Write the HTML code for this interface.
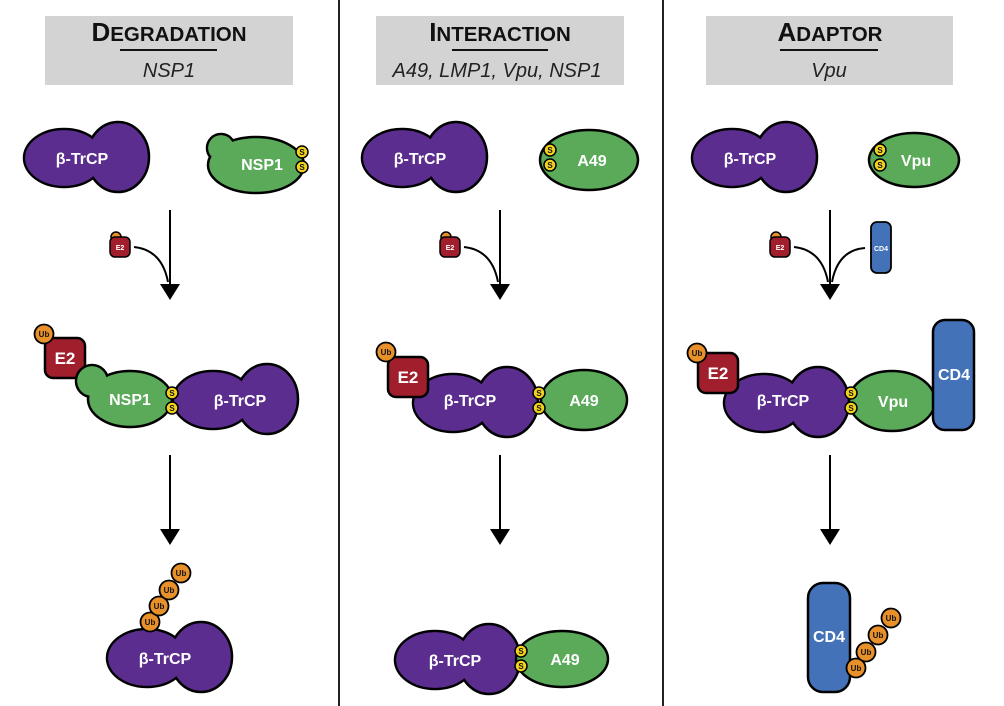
<!DOCTYPE html>
<html><head><meta charset="utf-8"><style>
html,body{margin:0;padding:0;background:#fff;}
svg{display:block;font-family:"Liberation Sans",Arial,sans-serif;}
.w{fill:#fff;font-weight:bold;text-anchor:middle;}
.k{fill:#111;font-weight:bold;text-anchor:middle;}
</style></head><body>
<svg width="1004" height="706" viewBox="0 0 1004 706" xmlns="http://www.w3.org/2000/svg">
<defs>
<g id="trcp">
 <ellipse cx="40" cy="36" rx="40" ry="29" fill="#5b2d8e" stroke="#000" stroke-width="2.5"/>
 <ellipse cx="94" cy="35" rx="31" ry="35" fill="#5b2d8e" stroke="#000" stroke-width="2.5"/>
 <ellipse cx="40" cy="36" rx="38.8" ry="27.8" fill="#5b2d8e"/>
</g>
<g id="ss">
 <circle cx="0" cy="0" r="6" fill="#f2d21e" stroke="#000" stroke-width="1.5"/>
 <circle cx="0" cy="15" r="6" fill="#f2d21e" stroke="#000" stroke-width="1.5"/>
 <text x="0" y="3" font-size="8" class="k">S</text>
 <text x="0" y="18" font-size="8" class="k">S</text>
</g>
<g id="ub">
 <circle cx="0" cy="0" r="9.5" fill="#e8902a" stroke="#000" stroke-width="1.8"/>
 <text x="0" y="3" font-size="8" class="k">Ub</text>
</g>
<g id="e2s">
 <circle cx="-4" cy="-10" r="5" fill="#e8902a" stroke="#000" stroke-width="1.5"/>
 <rect x="-10" y="-10" width="20" height="20" rx="5" fill="#a11f2c" stroke="#000" stroke-width="1.5"/>
 <text x="0" y="3" font-size="7" class="w">E2</text>
</g>
<g id="arr">
 <line x1="0" y1="0" x2="0" y2="76" stroke="#000" stroke-width="2"/>
 <polygon points="-10,74 10,74 0,90" fill="#000"/>
</g>
</defs>

<!-- headers -->
<rect x="45" y="16" width="248" height="69" fill="#d3d3d3"/>
<text x="169" y="41" font-size="26" font-weight="bold" text-anchor="middle" fill="#111">D<tspan font-size="20.5">EGRADATION</tspan></text>
<line x1="120" y1="50" x2="217" y2="50" stroke="#111" stroke-width="2"/>
<text x="169" y="77" font-size="20" font-style="italic" text-anchor="middle" fill="#222">NSP1</text>

<rect x="376" y="16" width="248" height="69" fill="#d3d3d3"/>
<text x="500" y="41" font-size="26" font-weight="bold" text-anchor="middle" fill="#111">I<tspan font-size="20.5">NTERACTION</tspan></text>
<line x1="452" y1="50" x2="548" y2="50" stroke="#111" stroke-width="2"/>
<text x="497" y="77" font-size="20" font-style="italic" text-anchor="middle" fill="#222">A49, LMP1, Vpu, NSP1</text>

<rect x="706" y="16" width="247" height="69" fill="#d3d3d3"/>
<text x="830" y="41" font-size="26" font-weight="bold" text-anchor="middle" fill="#111">A<tspan font-size="20.5">DAPTOR</tspan></text>
<line x1="780" y1="50" x2="878" y2="50" stroke="#111" stroke-width="2"/>
<text x="829" y="77" font-size="20" font-style="italic" text-anchor="middle" fill="#222">Vpu</text>

<line x1="339" y1="0" x2="339" y2="706" stroke="#222" stroke-width="2"/>
<line x1="663" y1="0" x2="663" y2="706" stroke="#222" stroke-width="2"/>

<!-- PANEL 1 -->
<use href="#trcp" x="24" y="122"/><text x="82" y="164" font-size="16" class="w">β-TrCP</text>
<circle cx="221" cy="148" r="14" fill="#5aaa5a" stroke="#000" stroke-width="2.5"/>
<ellipse cx="256" cy="165" rx="48" ry="28" fill="#5aaa5a" stroke="#000" stroke-width="2.5"/>
<circle cx="221" cy="148" r="12.8" fill="#5aaa5a"/>
<text x="262" y="170" font-size="16" class="w">NSP1</text>
<use href="#ss" x="302" y="152"/>
<use href="#arr" x="170" y="210"/>
<use href="#e2s" x="120" y="247"/>
<path d="M134,247 Q162,250 168,282" fill="none" stroke="#000" stroke-width="2"/>

<rect x="45" y="338" width="40" height="40" rx="8" fill="#a11f2c" stroke="#000" stroke-width="2.5"/>
<text x="65" y="364" font-size="17" class="w">E2</text>
<use href="#ub" x="44" y="334"/>
<circle cx="92" cy="381" r="16" fill="#5aaa5a" stroke="#000" stroke-width="2.5"/>
<ellipse cx="130" cy="399" rx="42" ry="28" fill="#5aaa5a" stroke="#000" stroke-width="2.5"/>
<circle cx="92" cy="381" r="14.8" fill="#5aaa5a"/>
<text x="130" y="405" font-size="16" class="w">NSP1</text>
<use href="#trcp" x="173" y="364"/><text x="240" y="406" font-size="16" class="w">β-TrCP</text>
<use href="#ss" x="172" y="393"/>
<use href="#arr" x="170" y="455"/>
<use href="#trcp" x="107" y="622"/><text x="165" y="664" font-size="16" class="w">β-TrCP</text>
<use href="#ub" x="150" y="622"/><use href="#ub" x="159" y="606"/><use href="#ub" x="169" y="590"/><use href="#ub" x="181" y="573"/>

<!-- PANEL 2 -->
<use href="#trcp" x="362" y="122"/><text x="420" y="164" font-size="16" class="w">β-TrCP</text>
<ellipse cx="589" cy="160" rx="49" ry="30" fill="#5aaa5a" stroke="#000" stroke-width="2.5"/>
<text x="592" y="166" font-size="16" class="w">A49</text>
<use href="#ss" x="550" y="150"/>
<use href="#arr" x="500" y="210"/>
<use href="#e2s" x="450" y="247"/>
<path d="M464,247 Q492,250 498,282" fill="none" stroke="#000" stroke-width="2"/>

<use href="#trcp" x="413" y="367"/>
<rect x="388" y="357" width="40" height="40" rx="8" fill="#a11f2c" stroke="#000" stroke-width="2.5"/>
<text x="408" y="383" font-size="17" class="w">E2</text>
<use href="#ub" x="386" y="352"/>
<text x="470" y="406" font-size="16" class="w">β-TrCP</text>
<ellipse cx="584" cy="400" rx="43" ry="30" fill="#5aaa5a" stroke="#000" stroke-width="2.5"/>
<text x="584" y="406" font-size="16" class="w">A49</text>
<use href="#ss" x="539" y="393"/>
<use href="#arr" x="500" y="455"/>
<use href="#trcp" x="395" y="624"/><text x="455" y="666" font-size="16" class="w">β-TrCP</text>
<ellipse cx="562" cy="659" rx="46" ry="28" fill="#5aaa5a" stroke="#000" stroke-width="2.5"/>
<text x="565" y="665" font-size="16" class="w">A49</text>
<use href="#ss" x="521" y="651"/>

<!-- PANEL 3 -->
<use href="#trcp" x="692" y="122"/><text x="750" y="164" font-size="16" class="w">β-TrCP</text>
<ellipse cx="914" cy="160" rx="45" ry="27" fill="#5aaa5a" stroke="#000" stroke-width="2.5"/>
<text x="916" y="166" font-size="16" class="w">Vpu</text>
<use href="#ss" x="880" y="150"/>
<use href="#arr" x="830" y="210"/>
<use href="#e2s" x="780" y="247"/>
<path d="M794,247 Q822,250 828,282" fill="none" stroke="#000" stroke-width="2"/>
<rect x="871" y="222" width="20" height="51" rx="6" fill="#4472b8" stroke="#000" stroke-width="1.8"/>
<text x="881" y="251" font-size="7" class="w">CD4</text>
<path d="M865,248 Q838,250 832,282" fill="none" stroke="#000" stroke-width="2"/>

<use href="#trcp" x="724" y="367"/>
<rect x="698" y="353" width="40" height="40" rx="8" fill="#a11f2c" stroke="#000" stroke-width="2.5"/>
<text x="718" y="379" font-size="17" class="w">E2</text>
<use href="#ub" x="697" y="353"/>
<text x="783" y="406" font-size="16" class="w">β-TrCP</text>
<ellipse cx="892" cy="401" rx="43" ry="30" fill="#5aaa5a" stroke="#000" stroke-width="2.5"/>
<text x="893" y="407" font-size="16" class="w">Vpu</text>
<use href="#ss" x="851" y="393"/>
<rect x="933" y="320" width="41" height="110" rx="12" fill="#4472b8" stroke="#000" stroke-width="2.5"/>
<text x="954" y="380" font-size="16" class="w">CD4</text>
<use href="#arr" x="830" y="455"/>
<rect x="808" y="583" width="42" height="109" rx="15" fill="#4472b8" stroke="#000" stroke-width="2.5"/>
<text x="829" y="642" font-size="16" class="w">CD4</text>
<use href="#ub" x="856" y="668"/><use href="#ub" x="866" y="652"/><use href="#ub" x="878" y="635"/><use href="#ub" x="891" y="618"/>
</svg>
</body></html>
